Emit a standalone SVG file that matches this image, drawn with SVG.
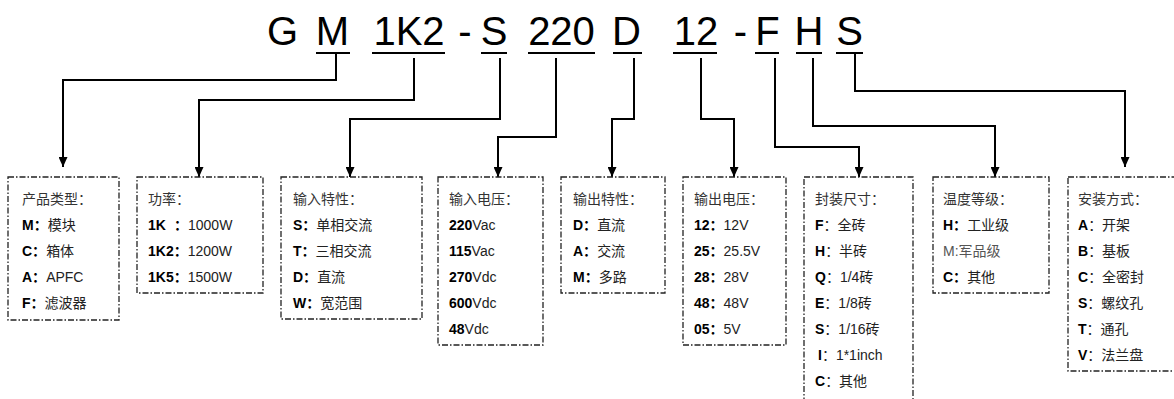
<svg xmlns="http://www.w3.org/2000/svg" width="1174" height="399" viewBox="0 0 1174 399">
<style>
.t{font-family:"Liberation Sans",Arial,sans-serif;font-size:40px;fill:#000;text-anchor:middle}
.ul{stroke:#000;stroke-width:2}
.c{fill:none;stroke:#000;stroke-width:2}
.box{fill:none;stroke:#222;stroke-width:1.3;stroke-dasharray:6 2 1.5 2}
.x{font-family:"Liberation Sans","Noto Sans CJK SC",sans-serif;font-size:14px;fill:#222}
.h{fill:#333}
.b{font-weight:bold;fill:#000}
.g{fill:#555}
</style>
<defs>
<marker id="arr" viewBox="0 0 10 9" refX="10" refY="4.5" markerWidth="10" markerHeight="9" markerUnits="userSpaceOnUse" orient="auto" preserveAspectRatio="none">
<path d="M0,0 L10,4.5 L0,9 z" fill="#000"/>
</marker>
</defs>
<rect width="1174" height="399" fill="#fff"/>
<g id="code">
<text class="t" x="282.5" y="45">G</text>
<text class="t" x="332.5" y="45">M</text>
<text class="t" x="409" y="45">1K2</text>
<text class="t" x="465" y="45">-</text>
<text class="t" x="494" y="45">S</text>
<text class="t" x="561.5" y="45">220</text>
<text class="t" x="626.5" y="45">D</text>
<text class="t" x="696" y="45">12</text>
<text class="t" x="740.5" y="45">-</text>
<text class="t" x="767.5" y="45">F</text>
<text class="t" x="809" y="45">H</text>
<text class="t" x="849.5" y="45">S</text>
<line class="ul" x1="316" y1="53" x2="350" y2="53"/>
<line class="ul" x1="372" y1="53" x2="445" y2="53"/>
<line class="ul" x1="481" y1="53" x2="507" y2="53"/>
<line class="ul" x1="528" y1="53" x2="595" y2="53"/>
<line class="ul" x1="613" y1="53" x2="642" y2="53"/>
<line class="ul" x1="673" y1="53" x2="717" y2="53"/>
<line class="ul" x1="755" y1="53" x2="779" y2="53"/>
<line class="ul" x1="796" y1="53" x2="822" y2="53"/>
<line class="ul" x1="836" y1="53" x2="863" y2="53"/>
</g>
<g id="connectors">
<path class="c" marker-end="url(#arr)" d="M336,53 V80 H63 V167"/>
<path class="c" marker-end="url(#arr)" d="M414,58 V100 H199 V177"/>
<path class="c" marker-end="url(#arr)" d="M500,58 V119 H350 V177"/>
<path class="c" marker-end="url(#arr)" d="M556,58 V137 H498 V177"/>
<path class="c" marker-end="url(#arr)" d="M634,58 V119 H612 V177"/>
<path class="c" marker-end="url(#arr)" d="M701,58 V119 H734 V177"/>
<path class="c" marker-end="url(#arr)" d="M775,58 V147 H859 V177"/>
<path class="c" marker-end="url(#arr)" d="M813,58 V126 H995 V177"/>
<path class="c" marker-end="url(#arr)" d="M855,53 V91 H1125 V167"/>
</g>
<g id="box-type">
<rect class="box" x="8" y="177" width="111" height="143"/>
<text class="x" x="22" y="204"><tspan class="h">产品类型：</tspan></text>
<text class="x" x="22" y="230"><tspan class="b">M：</tspan>模块</text>
<text class="x" x="22" y="256"><tspan class="b">C：</tspan>箱体</text>
<text class="x" x="22" y="282"><tspan class="b">A：</tspan>APFC</text>
<text class="x" x="22" y="308"><tspan class="b">F：</tspan>滤波器</text>
</g>
<g id="box-power">
<rect class="box" x="137" y="177" width="126" height="116"/>
<text class="x" x="148" y="204"><tspan class="h">功率：</tspan></text>
<text class="x" x="148" y="230"><tspan class="b">1K</tspan><tspan class="b" x="174">：</tspan>1000W</text>
<text class="x" x="148" y="256"><tspan class="b">1K2：</tspan>1200W</text>
<text class="x" x="148" y="282"><tspan class="b">1K5：</tspan>1500W</text>
</g>
<g id="box-input">
<rect class="box" x="281" y="177" width="141" height="142"/>
<text class="x" x="293" y="204"><tspan class="h">输入特性：</tspan></text>
<text class="x" x="293" y="230"><tspan class="b">S：</tspan>单相交流</text>
<text class="x" x="293" y="256"><tspan class="b">T：</tspan>三相交流</text>
<text class="x" x="293" y="282"><tspan class="b">D：</tspan>直流</text>
<text class="x" x="293" y="308"><tspan class="b">W：</tspan>宽范围</text>
</g>
<g id="box-vin">
<rect class="box" x="438" y="177" width="105" height="168"/>
<text class="x" x="449" y="204"><tspan class="h">输入电压：</tspan></text>
<text class="x" x="449" y="230"><tspan class="b">220</tspan>Vac</text>
<text class="x" x="449" y="256"><tspan class="b">115</tspan>Vac</text>
<text class="x" x="449" y="282"><tspan class="b">270</tspan>Vdc</text>
<text class="x" x="449" y="308"><tspan class="b">600</tspan>Vdc</text>
<text class="x" x="449" y="334"><tspan class="b">48</tspan>Vdc</text>
</g>
<g id="box-output">
<rect class="box" x="561" y="177" width="104" height="116"/>
<text class="x" x="573" y="204"><tspan class="h">输出特性：</tspan></text>
<text class="x" x="573" y="230"><tspan class="b">D：</tspan>直流</text>
<text class="x" x="573" y="256"><tspan class="b">A：</tspan>交流</text>
<text class="x" x="573" y="282"><tspan class="b">M：</tspan>多路</text>
</g>
<g id="box-vout">
<rect class="box" x="683" y="177" width="103" height="168"/>
<text class="x" x="694" y="204"><tspan class="h">输出电压：</tspan></text>
<text class="x" x="694" y="230"><tspan class="b">12：</tspan>12V</text>
<text class="x" x="694" y="256"><tspan class="b">25：</tspan>25.5V</text>
<text class="x" x="694" y="282"><tspan class="b">28：</tspan>28V</text>
<text class="x" x="694" y="308"><tspan class="b">48：</tspan>48V</text>
<text class="x" x="694" y="334"><tspan class="b">05：</tspan>5V</text>
</g>
<g id="box-package">
<rect class="box" x="804" y="177" width="109" height="240"/>
<text class="x" x="815" y="204"><tspan class="h">封装尺寸：</tspan></text>
<text class="x" x="815" y="230"><tspan class="b">F</tspan>：全砖</text>
<text class="x" x="815" y="256"><tspan class="b">H</tspan>：半砖</text>
<text class="x" x="815" y="282"><tspan class="b">Q</tspan>：1/4砖</text>
<text class="x" x="815" y="308"><tspan class="b">E</tspan>：1/8砖</text>
<text class="x" x="815" y="334"><tspan class="b">S</tspan>：1/16砖</text>
<text class="x" x="818" y="360"><tspan class="b">I</tspan>：1*1inch</text>
<text class="x" x="815" y="386"><tspan class="b">C</tspan>：其他</text>
</g>
<g id="box-temp">
<rect class="box" x="933" y="177" width="116" height="116"/>
<text class="x" x="943" y="204"><tspan class="h">温度等级：</tspan></text>
<text class="x" x="943" y="230"><tspan class="b">H：</tspan>工业级</text>
<text class="x" x="943" y="256"><tspan class="g">M:军品级</tspan></text>
<text class="x" x="943" y="282"><tspan class="b">C：</tspan>其他</text>
</g>
<g id="box-mount">
<rect class="box" x="1068" y="177" width="120" height="194"/>
<text class="x" x="1078" y="204"><tspan class="h">安装方式：</tspan></text>
<text class="x" x="1078" y="230"><tspan class="b">A</tspan>：开架</text>
<text class="x" x="1078" y="256"><tspan class="b">B</tspan>：基板</text>
<text class="x" x="1078" y="282"><tspan class="b">C</tspan>：全密封</text>
<text class="x" x="1078" y="308"><tspan class="b">S</tspan>：螺纹孔</text>
<text class="x" x="1078" y="334"><tspan class="b">T</tspan>：通孔</text>
<text class="x" x="1078" y="360"><tspan class="b">V</tspan>：法兰盘</text>
</g>
</svg>
